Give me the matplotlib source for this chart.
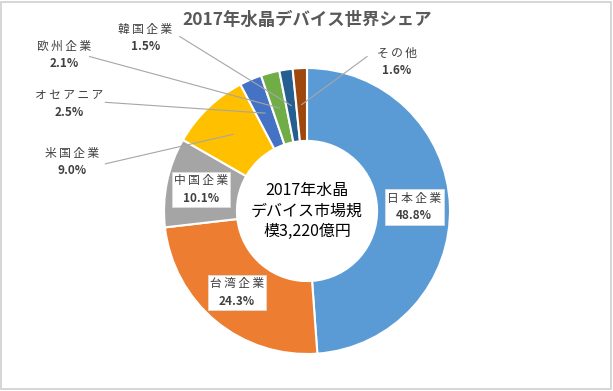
import matplotlib
matplotlib.use('Agg')
import matplotlib.pyplot as plt
from matplotlib.patches import Rectangle
import numpy as np

plt.rcParams['font.family'] = ['Noto Sans CJK JP', 'DejaVu Sans']

#### データ
kigyou = ['日本企業', '台湾企業', '中国企業', '米国企業', 'オセアニア', '欧州企業', '韓国企業', 'その他']
share = [48.8, 24.3, 10.1, 9.0, 2.5, 2.1, 1.5, 1.6]
iro = ['#5B9BD5', '#ED7D31', '#A5A5A5', '#FFC000', '#4472C4', '#70AD47', '#255E91', '#9E480E']

# ラベル位置 (内側は箱つき、外側は引き出し線つき)
label_pos = [(0.75, 0.03), (-0.49, -0.57), (-0.74, 0.15), (-1.64, 0.34),
             (-1.66, 0.75), (-1.70, 1.09), (-1.13, 1.21), (0.63, 1.04)]
naigawa = [True, True, True, False, False, False, False, False]
line_start = [None, None, None, (-1.41, 0.33), (-1.41, 0.76), (-1.52, 1.08), (-0.89, 1.22), (0.42, 1.08)]

fig = plt.figure(figsize=(6.13, 3.91), dpi=100)
fig.patches.append(Rectangle((0.002, 0.004), 0.995, 0.992, transform=fig.transFigure,
                             fill=False, edgecolor='#d0d0d0', lw=1.2))
ax = fig.add_axes([0, 0, 1, 1])

wedges, _ = ax.pie(share, colors=iro, startangle=90, counterclock=False, radius=1.0,
                   wedgeprops=dict(width=0.51, edgecolor='white', linewidth=1.5))

ax.set_xlim(-307 / 143, (613 - 307) / 143)
ax.set_ylim(-(391 - 211) / 143, 211 / 143)
ax.set_aspect('auto')
ax.axis('off')

for i, w in enumerate(wedges):
    name = '\u2009'.join(kigyou[i])
    lx, ly = label_pos[i]
    if naigawa[i]:
        ax.add_patch(Rectangle((lx - 0.205, ly - 0.125), 0.41, 0.25, fc='white',
                               ec='#e0e0e0', lw=0.5, zorder=3))
    else:
        mid = np.deg2rad((w.theta1 + w.theta2) / 2)
        r = 0.745
        sx, sy = line_start[i]
        ax.plot([sx, r * np.cos(mid)], [sy, r * np.sin(mid)], color='#a6a6a6', lw=0.8)
    ax.text(lx, ly + 0.06, name, ha='center', va='center', fontsize=8.5,
            color='#404040', zorder=4)
    ax.text(lx, ly - 0.06, '%.1f%%' % share[i], ha='center', va='center', fontsize=8.5,
            fontweight='bold', color='#404040', zorder=4)

ax.text(0, 0.0, '2017年水晶\nデバイス市場規\n模3,220億円', ha='center', va='center',
        fontsize=11.5, color='black', linespacing=1.25)

ax.text(0, 1.335, '2017年水晶デバイス世界シェア', ha='center', va='center',
        fontsize=12.5, fontweight='bold', color='#595959')

plt.savefig('out.png', dpi=100)
